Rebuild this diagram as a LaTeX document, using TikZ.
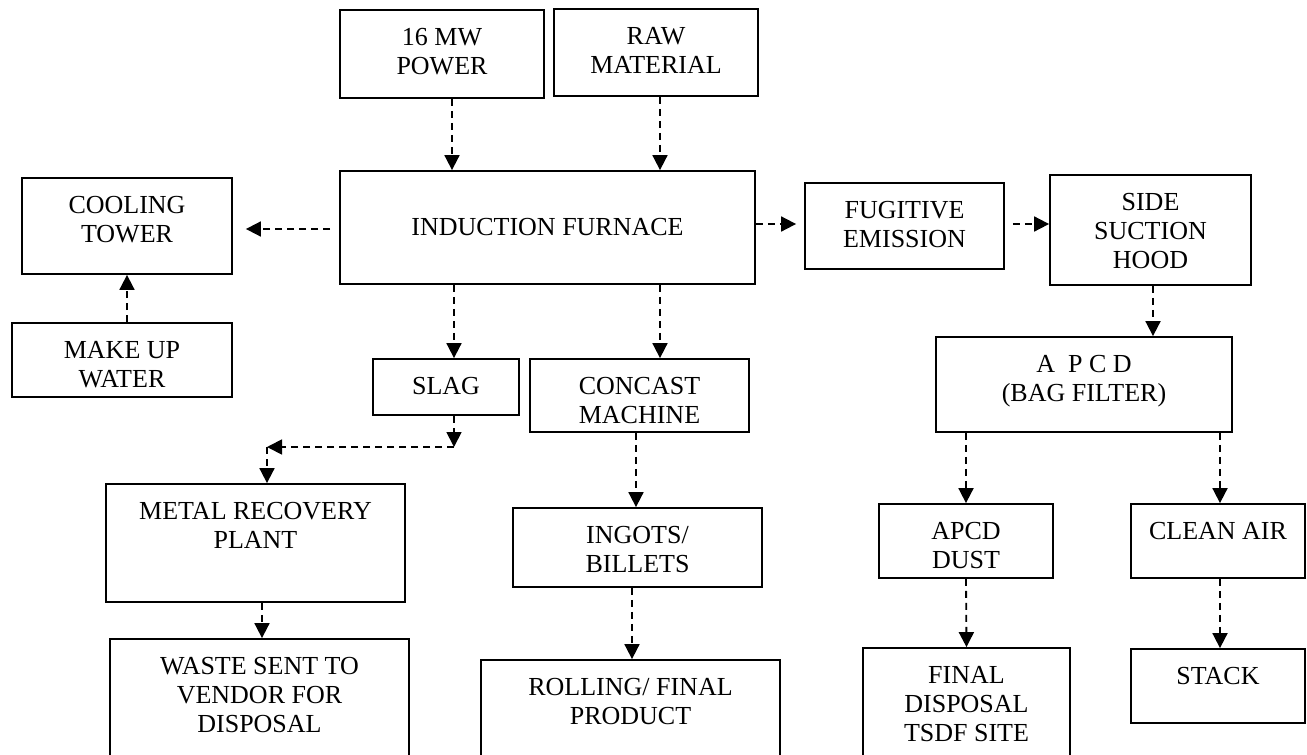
\documentclass[tikz,border=0pt]{standalone}
\usepackage{fontspec}
\setmainfont{Liberation Serif}
\usetikzlibrary{arrows.meta, calc}
\newdimen\pxu
\pxu=0.5pt
\newcommand{\Blk}[3]{\parbox[c][#2\pxu][t]{#1\pxu}{\centering\rule{0pt}{17.5pt}#3}}
\tikzset{
    blk/.style={draw, rectangle, inner sep=0pt, line width=0.9pt},
    flow/.style={dash pattern=on 3.5pt off 2.5pt, line width=0.9pt, -{Triangle[length=7.5pt, width=7.5pt]}},
}

\begin{document}
\begin{tikzpicture}[x=0.5pt, y=-0.5pt, font=\fontsize{13}{14.5}\selectfont]
    \useasboundingbox (0,0) rectangle (1307,755);

    \node[blk] (power) at (442,54) {\Blk{204}{88}{16 MW\\POWER}};
    \node[blk] (raw) at (656,52.5) {\Blk{204}{87}{RAW\\MATERIAL}};
    \node[blk, minimum width=207.5pt, minimum height=56.5pt] (furnace) at (547.5,227.5) {INDUCTION FURNACE};
    \node[blk] (cooling) at (127,226) {\Blk{210}{96}{COOLING\\TOWER}};
    \node[blk] (makeup) at (122,360) {\Blk{220}{74}{MAKE UP\\WATER}};
    \node[blk] (fugitive) at (904.5,226) {\Blk{199}{86}{FUGITIVE\\EMISSION}};
    \node[blk] (hood) at (1150.5,230) {\Blk{201}{110}{SIDE\\SUCTION\\HOOD}};
    \node[blk] (apcd) at (1084,384.5) {\Blk{296}{95}{A~~P C D\\(BAG FILTER)}};
    \node[blk] (dust) at (966,541) {\Blk{174}{74}{APCD\\DUST}};
    \node[blk] (clean) at (1218,541) {\Blk{174}{74}{CLEAN AIR}};
    \node[blk] (final) at (966.5,704.5) {\Blk{207}{113}{FINAL\\DISPOSAL\\TSDF SITE}};
    \node[blk] (stack) at (1218,686) {\Blk{174}{74}{STACK}};
    \node[blk] (slag) at (446,387) {\Blk{146}{56}{SLAG}};
    \node[blk] (concast) at (639.5,395.5) {\Blk{219}{73}{CONCAST\\MACHINE}};
    \node[blk] (metal) at (255.5,543) {\Blk{299}{118}{METAL RECOVERY\\PLANT}};
    \node[blk] (waste) at (259.5,701.5) {\Blk{299}{125}{WASTE SENT TO\\VENDOR FOR\\DISPOSAL}};
    \node[blk] (ingots) at (637.5,547.5) {\Blk{249}{79}{INGOTS/\\BILLETS}};
    \node[blk] (rolling) at (630.5,712) {\Blk{299}{104}{ROLLING/ FINAL\\PRODUCT}};

    \coordinate (sj) at (454,447);
    \coordinate (mj) at (267,447);

    \draw[flow] (power.south -| 452,0) -- (furnace.north -| 452,0);
    \draw[flow] (raw.south -| 660,0) -- (furnace.north -| 660,0);
    \draw[flow, shorten <=4.5pt, shorten >=6.5pt] (furnace.west |- 0,229) -- (cooling.east |- 0,229);
    \draw[flow] (makeup.north -| 127,0) -- (cooling.south -| 127,0);
    \draw[flow, shorten >=4pt] (furnace.east |- 0,224) -- (fugitive.west |- 0,224);
    \draw[flow, shorten <=4pt] (fugitive.east |- 0,224) -- (hood.west |- 0,224);
    \draw[flow] (hood.south -| 1153,0) -- (apcd.north -| 1153,0);
    \draw[flow] (apcd.south -| dust) -- (dust.north);
    \draw[flow] (apcd.south -| 1220,0) -- (clean.north -| 1220,0);
    \draw[flow] (dust.south) -- (final.north);
    \draw[flow] (clean.south -| 1220,0) -- (stack.north -| 1220,0);
    \draw[flow] (furnace.south -| 454,0) -- (slag.north -| 454,0);
    \draw[flow] (furnace.south -| 660,0) -- (concast.north -| 660,0);
    \draw[flow] (slag.south -| sj) -- (sj);
    \draw[flow] (sj) -- (mj);
    \draw[flow] (mj) -- (metal.north -| mj);
    \draw[flow] (metal.south -| 262,0) -- (waste.north -| 262,0);
    \draw[flow] (concast.south -| 636,0) -- (ingots.north -| 636,0);
    \draw[flow] (ingots.south -| 632,0) -- (rolling.north -| 632,0);
\end{tikzpicture}
\end{document}
